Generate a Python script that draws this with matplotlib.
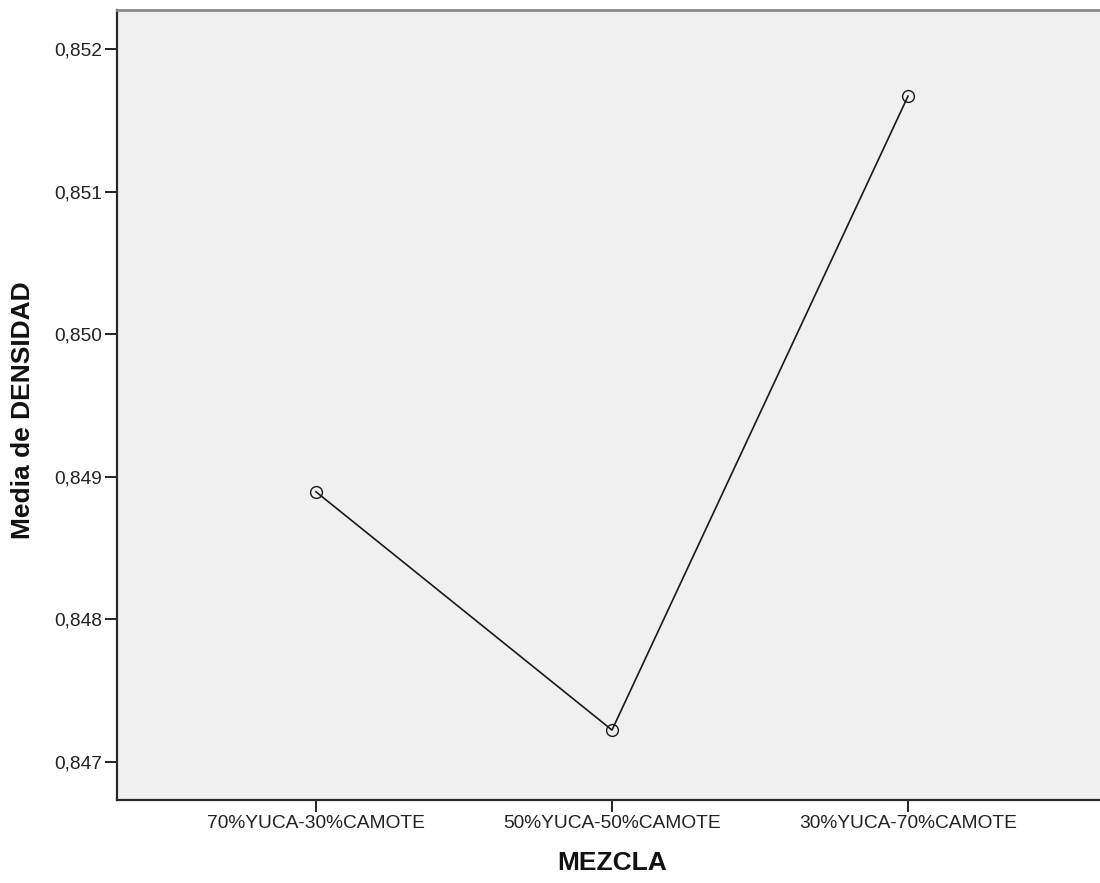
import matplotlib
matplotlib.use('Agg')
import matplotlib.pyplot as plt
from matplotlib.ticker import FixedLocator, FixedFormatter

plt.rcParams['font.family'] = ['Liberation Sans', 'DejaVu Sans']

# data
mezcla = ['70%YUCA-30%CAMOTE', '50%YUCA-50%CAMOTE', '30%YUCA-70%CAMOTE']
densidad = [0.848895, 0.847224, 0.851670]
y_ticks = [0.847, 0.848, 0.849, 0.850, 0.851, 0.852]
y_tick_labels = ['0,847', '0,848', '0,849', '0,850', '0,851', '0,852']

fig = plt.figure(figsize=(11, 8.83), dpi=100)
ax = fig.add_axes([117 / 1100, 83 / 883, 990 / 1100, 790 / 883])
ax.set_facecolor('#f0f0f0')

x = list(range(len(mezcla)))
ax.plot(x, densidad, color='#1a1a1a', linewidth=1.2,
        marker='o', markersize=8.5, markerfacecolor='none',
        markeredgecolor='#1a1a1a', markeredgewidth=1.0)

ax.set_xlim(-0.672, 2.672)
ax.set_ylim(0.8467335, 0.8522735)

ax.set_xticks(x)
ax.set_xticklabels(mezcla)
ax.yaxis.set_major_locator(FixedLocator(y_ticks))
ax.yaxis.set_major_formatter(FixedFormatter(y_tick_labels))

ax.tick_params(axis='both', labelsize=13.8, colors='#222222', length=8.5,
               width=1.4, pad=2)

for side in ('left', 'bottom'):
    ax.spines[side].set_color('#2a2a2a')
    ax.spines[side].set_linewidth(1.6)
ax.spines['top'].set_color('#8a8a8a')
ax.spines['top'].set_linewidth(2.0)
ax.spines['right'].set_visible(False)

fig.text(612 / 1100, 1 - 863 / 883, 'MEZCLA', ha='center', va='center',
         fontsize=19, fontweight='bold', color='#111111')
fig.text(23 / 1100, 1 - 410 / 883, 'Media de DENSIDAD', ha='center', va='center',
         rotation=90, fontsize=19, fontweight='bold', color='#111111')

fig.savefig('out.png', dpi=100)
